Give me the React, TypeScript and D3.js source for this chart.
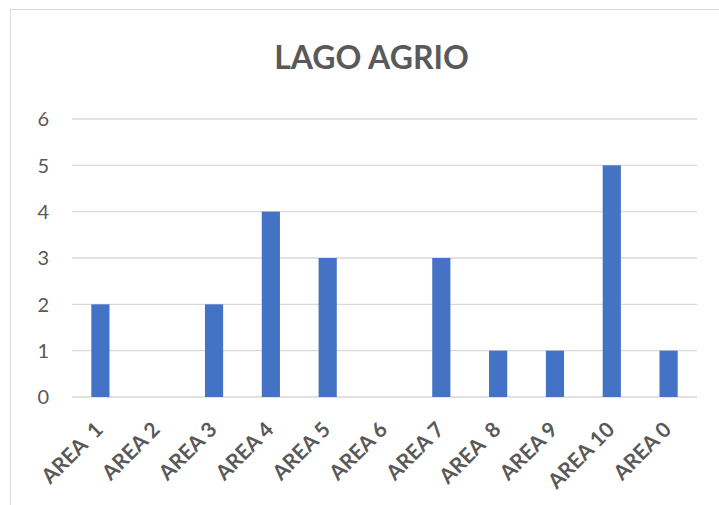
import React from "react";
import * as d3 from "d3";

const categories = ["AREA  1", "AREA 2", "AREA 3", "AREA 4", "AREA 5", "AREA 6", "AREA 7", "AREA  8", "AREA 9", "AREA 10", "AREA 0"];
const values = [2, 0, 2, 4, 3, 0, 3, 1, 1, 5, 1];
const yTicks = [0, 1, 2, 3, 4, 5, 6];
const title = "LAGO AGRIO";

export default function App() {
  const W = 719, H = 505;
  const left = 72, right = 697, top = 119, bottom = 397;
  const x = d3.scaleBand<string>().domain(categories).range([left, right]).paddingInner(0.68).paddingOuter(0.34);
  const y = d3.scaleLinear().domain([0, 6]).range([bottom, top]);
  const font = "Lato, 'Open Sans', sans-serif";
  return (
    <svg width={W} height={H} style={{ position: "absolute", left: 0, top: 0, background: "#fff" }}>
      <rect x={10.5} y={9.5} width={740} height={520} fill="#fff" stroke="#d9d9d9" strokeWidth={1} />
      <text x={371.5} y={69} textAnchor="middle" fontFamily={font} fontWeight={700} fontSize={32} fill="#595959">{title}</text>
      {yTicks.map(t => (
        <g key={t}>
          <line x1={left} x2={right} y1={y(t)} y2={y(t)} stroke="#d9d9d9" strokeWidth={1.3} />
          <text x={49} y={y(t)} dy="0.36em" textAnchor="end" fontFamily={font} fontSize={20} fill="#595959">{t}</text>
        </g>
      ))}
      {categories.map((c, i) => (
        <rect key={c} x={x(c)} y={y(values[i])} width={x.bandwidth()} height={y(0) - y(values[i])} fill="#4472C4" />
      ))}
      {categories.map(c => {
        const cx = (x(c) as number) + x.bandwidth() / 2;
        return (
          <text key={c} transform={`translate(${cx + 4},${431}) rotate(-45)`} textAnchor="end"
            fontFamily={font} fontWeight={700} fontSize={21} fill="#595959" style={{ whiteSpace: "pre" }}>{c}</text>
        );
      })}
    </svg>
  );
}
